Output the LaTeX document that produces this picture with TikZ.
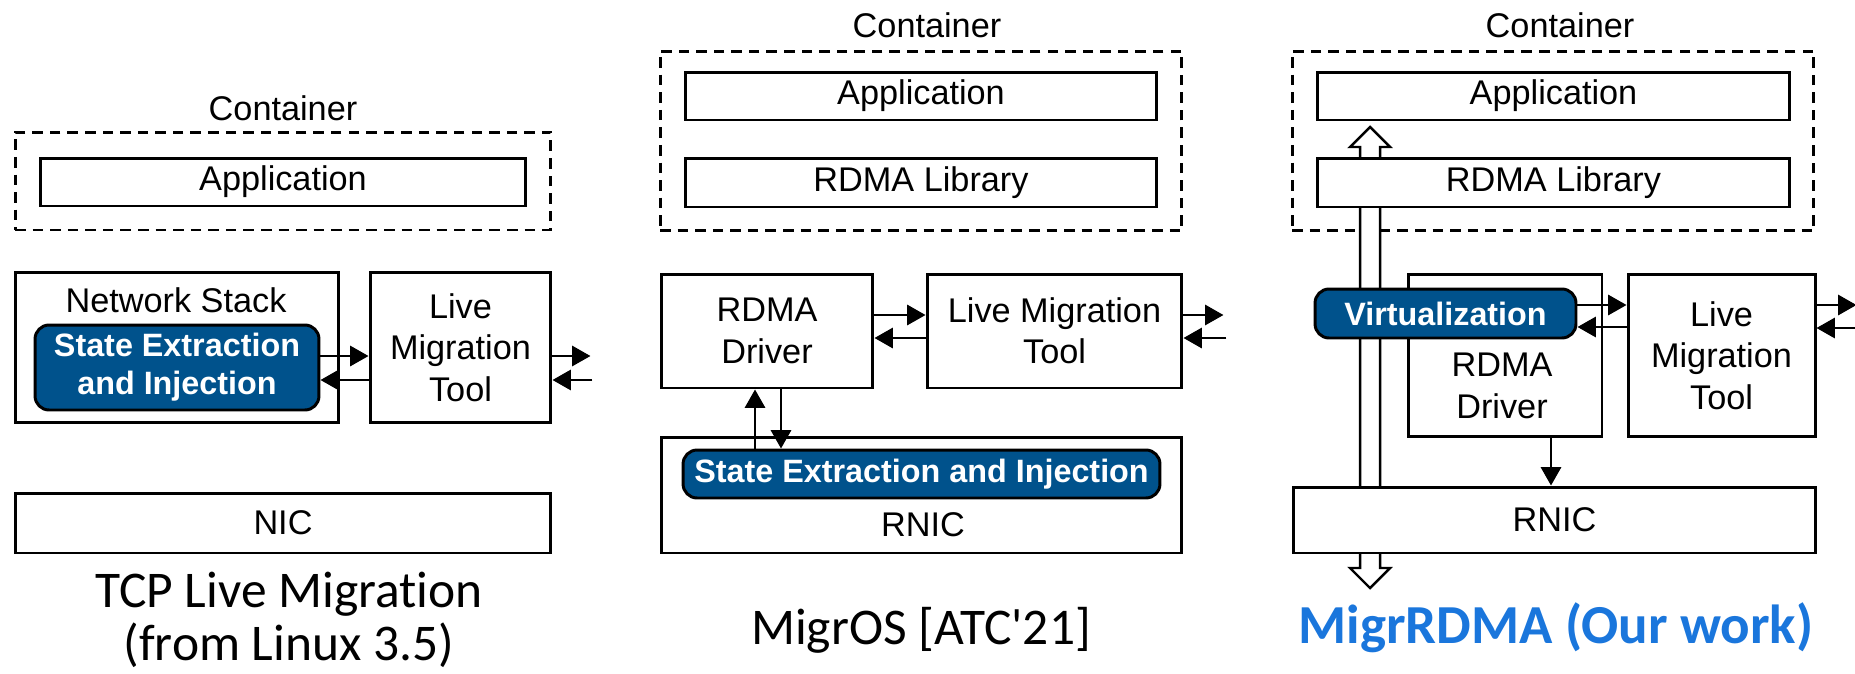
\documentclass[tikz,border=0pt]{standalone}
\usepackage{fontspec}
\setmainfont{Liberation Sans}
\newfontfamily\titlefont[Ligatures=NoCommon]{Carlito}
\usetikzlibrary{arrows.meta}

\definecolor{seiblue}{RGB}{0,82,140}
\definecolor{ourblue}{RGB}{26,118,220}

\begin{document}
\begin{tikzpicture}[
    x=0.02cm, y=-0.02cm,
    box/.style={draw, line width=1.7pt, inner sep=0pt, align=center,
                font=\fontsize{19.5}{23.5}\selectfont},
    plain/.style={inner sep=0pt, align=center, font=\fontsize{19.5}{23.5}\selectfont},
    cont/.style={draw, line width=1.7pt, dash pattern=on 6pt off 4pt},
    state/.style={draw, line width=1.7pt, rounded corners=8pt, fill=seiblue,
                  text=white, inner sep=0pt, align=center,
                  font=\fontsize{18.4}{21.5}\selectfont\bfseries},
    arr/.style={-{Triangle[length=10.5pt, width=11.5pt]}, line width=1.5pt},
    title/.style={align=center, font=\fontsize{29.3}{30.5}\selectfont\titlefont}
]
\useasboundingbox (0,0) rectangle (1855,673);

% --- TCP live migration (left) ---
\node[plain] (ctxt1) at (283,108) {Container};
\node[cont, minimum width=10.72cm, minimum height=1.96cm] (cont1) at (283,181) {};
\node[box, minimum width=9.72cm, minimum height=0.96cm] (app1) at (283,182) {Application};

\node[box, minimum width=6.48cm, minimum height=3.02cm] (net1) at (177,347.5) {};
\node[plain] (nettxt1) at (176,300) {Network Stack};
\node[state, minimum width=5.68cm, minimum height=1.7cm] (sei1) at (177,367.5)
    {State Extraction\\and Injection};
\node[box, minimum width=3.62cm, minimum height=3.02cm] (lmt1) at (460.5,347.5)
    {Live\\Migration\\Tool};
\node[box, minimum width=10.72cm, minimum height=1.2cm] (nic1) at (283,523) {NIC};

\draw[arr] ([yshift=0.23cm]sei1.east) -- ([yshift=0.23cm]sei1.east -| lmt1.west);
\draw[arr] ([yshift=-0.25cm]sei1.east -| lmt1.west) -- ([yshift=-0.25cm]sei1.east);
\draw[arr] ([yshift=-0.17cm]lmt1.east) -- ++(0.76cm,0);
\draw[arr] ([yshift=-0.65cm]lmt1.east) ++(0.8cm,0) -- ([yshift=-0.65cm]lmt1.east);

\node[title] (title1) at (289,620) {TCP Live Migration\\(from Linux 3.5)};

% --- MigrOS (middle) ---
\node[plain] (ctxt2) at (927,25) {Container};
\node[cont, minimum width=10.44cm, minimum height=3.6cm] (cont2) at (921,141) {};
\node[box, minimum width=9.44cm, minimum height=0.96cm] (app2) at (921,96) {Application};
\node[box, minimum width=9.44cm, minimum height=0.98cm] (lib2) at (921,182.5) {RDMA Library};

\node[box, minimum width=4.24cm, minimum height=2.28cm] (drv2) at (767,331) {RDMA\\Driver};
\node[box, minimum width=5.1cm, minimum height=2.28cm] (lmt2) at (1054.5,331)
    {Live Migration\\Tool};
\node[box, minimum width=10.42cm, minimum height=2.32cm] (rnic2) at (921.5,495) {};
\node[state, minimum width=9.54cm, minimum height=0.96cm] (sei2) at (921.5,474)
    {State Extraction and Injection};
\node[plain] (rnictxt2) at (923,525) {RNIC};

\draw[arr] ([yshift=0.32cm]drv2.east) -- ([yshift=0.32cm]drv2.east -| lmt2.west);
\draw[arr] ([yshift=-0.14cm]drv2.east -| lmt2.west) -- ([yshift=-0.14cm]drv2.east);
\draw[arr] ([yshift=0.32cm]lmt2.east) -- ++(0.8cm,0);
\draw[arr] ([yshift=-0.14cm]lmt2.east) ++(0.86cm,0) -- ([yshift=-0.14cm]lmt2.east);
\draw[arr] ([xshift=-0.24cm]drv2.south |- sei2.north) -- ([xshift=-0.24cm]drv2.south);
\draw[arr] ([xshift=0.28cm]drv2.south) -- ([xshift=0.28cm]drv2.south |- sei2.north);

\node[title] (title2) at (921,630) {MigrOS [ATC'21]};

% --- MigrRDMA (right) ---
\node[plain] (ctxt3) at (1560,25) {Container};
\node[cont, minimum width=10.44cm, minimum height=3.6cm] (cont3) at (1553,141) {};

% hollow double arrow through the stack
\draw[line width=1.4pt, fill=white]
    (1370,127) -- (1390,147) -- (1380,147) -- (1380,568) -- (1390,568) -- (1370,588)
    -- (1350,568) -- (1360,568) -- (1360,147) -- (1350,147) -- cycle;

\node[box, fill=white, minimum width=9.46cm, minimum height=0.96cm] (app3) at (1553.5,96) {Application};
\node[box, fill=white, minimum width=9.46cm, minimum height=0.98cm] (lib3) at (1553.5,182.5) {RDMA Library};

\node[box, fill=white, minimum width=3.88cm, minimum height=3.26cm] (drv3) at (1505,355.5) {};
\node[plain] (drvtxt3) at (1502,386) {RDMA\\Driver};
\node[state, minimum width=5.22cm, minimum height=0.98cm] (virt3) at (1445.5,313.5) {Virtualization};
\node[box, minimum width=3.74cm, minimum height=3.26cm] (lmt3) at (1721.5,355.5)
    {Live\\Migration\\Tool};
\node[box, fill=white, minimum width=10.46cm, minimum height=1.32cm] (rnic3) at (1554.5,520) {RNIC};

\draw[arr] ([yshift=0.17cm]virt3.east) -- ([yshift=0.17cm]virt3.east -| lmt3.west);
\draw[arr] ([yshift=-0.27cm]virt3.east -| lmt3.west) -- ([yshift=-0.27cm]virt3.east);
\draw[arr] ([yshift=1.01cm]lmt3.east) -- ++(0.8cm,0);
\draw[arr] ([yshift=0.55cm]lmt3.east) ++(0.8cm,0) -- ([yshift=0.55cm]lmt3.east);
\draw[arr] ([xshift=0.92cm]drv3.south) -- ([xshift=0.92cm]drv3.south |- rnic3.north);

\node[title, text=ourblue, font=\fontsize{31.3}{36}\selectfont\titlefont\bfseries]
    (title3) at (1556,628) {MigrRDMA (Our work)};

\end{tikzpicture}
\end{document}
